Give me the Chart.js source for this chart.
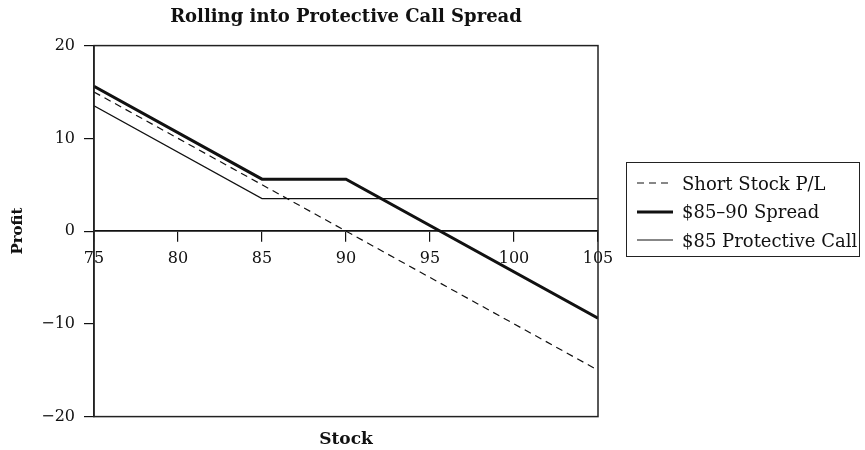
<!DOCTYPE html>
<html>
<head>
<meta charset="utf-8">
<script src="https://cdn.jsdelivr.net/npm/chart.js@4"></script>
<style>
  body { margin: 0; background: #fff; }
  #wrap { position: relative; width: 865px; height: 450px; }
  #legend {
    position: absolute; left: 626px; top: 162px; width: 234px; height: 95px;
    border: 1.5px solid #222; font-family: 'DejaVu Serif', serif; font-size: 18px; color: #111;
    box-sizing: border-box; padding-top: 6px;
  }
  .item { display: flex; align-items: center; height: 28.5px; white-space: nowrap; }
  .swatch { width: 36px; margin-left: 10px; margin-right: 9px; }
</style>
</head>
<body>
<div id="wrap">
  <canvas id="chart" width="865" height="450"></canvas>
  <div id="legend"></div>
</div>
<script>
// Stock price breakpoints and profit at each
const stockPrices = [75, 85, 90, 105];
const shortStockPL = [15, 5, 0, -15];
const spreadPL = [15.6, 5.6, 5.6, -9.4];
const protectiveCallPL = [13.5, 3.5, 3.5, 3.5];
const seriesNames = ['Short Stock P/L', '$85\u201390 Spread', '$85 Protective Call'];

const serif = 'DejaVu Serif, serif';

function points(values) {
    return stockPrices.map((x, i) => ({ x: x, y: values[i] }));
}

// draws the box round the plot area
const framePlugin = {
    id: 'frame',
    afterDraw(chart) {
        const a = chart.chartArea;
        const ctx = chart.ctx;
        ctx.save();
        ctx.strokeStyle = '#222';
        ctx.lineWidth = 1.5;
        ctx.strokeRect(a.left, a.top, a.right - a.left, a.bottom - a.top);
        ctx.restore();
    }
};

const datasets = [
    { label: seriesNames[0], data: points(shortStockPL), borderColor: '#111', borderWidth: 1.2, borderDash: [7, 5] },
    { label: seriesNames[1], data: points(spreadPL), borderColor: '#111', borderWidth: 3 },
    { label: seriesNames[2], data: points(protectiveCallPL), borderColor: '#111', borderWidth: 1.2 }
];

new Chart(document.getElementById('chart'), {
    type: 'line',
    data: { datasets: datasets },
    options: {
        responsive: false,
        animation: false,
        layout: { padding: { top: 6, right: 267, bottom: 0, left: 0 } },
        elements: { point: { radius: 0 }, line: { tension: 0 } },
        plugins: {
            legend: { display: false },
            tooltip: { enabled: false },
            title: {
                display: true,
                text: 'Rolling into Protective Call Spread',
                fullSize: false,
                color: '#111',
                font: { family: serif, size: 18, weight: 'bold' },
                padding: { top: 1, bottom: 17 }
            },
            subtitle: {
                display: true,
                position: 'bottom',
                text: 'Stock',
                fullSize: false,
                color: '#111',
                font: { family: serif, size: 17, weight: 'bold' },
                padding: { top: 13, bottom: 0 }
            }
        },
        scales: {
            x: {
                type: 'linear',
                position: { y: 0 },
                min: 75,
                max: 105,
                border: { color: '#111', width: 1.8 },
                grid: { drawOnChartArea: false, tickLength: 10, color: '#111', lineWidth: 1.2 },
                ticks: { stepSize: 5, color: '#111', padding: 8, font: { family: serif, size: 16 } }
            },
            y: {
                min: -20,
                max: 20,
                afterFit(scale) { scale.width = 94; },
                border: { color: '#222', width: 1.5 },
                grid: { drawOnChartArea: false, tickLength: 10, color: '#111', lineWidth: 1.2 },
                ticks: {
                    stepSize: 10,
                    color: '#111',
                    padding: 9,
                    font: { family: serif, size: 16 },
                    callback: v => v < 0 ? '\u2212' + Math.abs(v) : String(v)
                },
                title: {
                    display: true,
                    text: 'Profit',
                    color: '#111',
                    font: { family: serif, size: 15, weight: 'bold' },
                    padding: { top: 9, bottom: 0 }
                }
            }
        }
    },
    plugins: [framePlugin]
});

// legend built from the dataset settings
const legendEl = document.getElementById('legend');
datasets.forEach(ds => {
    const row = document.createElement('div');
    row.className = 'item';
    const sw = document.createElement('canvas');
    sw.className = 'swatch';
    sw.width = 36; sw.height = 10;
    const c = sw.getContext('2d');
    c.strokeStyle = ds.borderColor;
    c.lineWidth = ds.borderWidth;
    if (ds.borderDash) c.setLineDash(ds.borderDash);
    c.beginPath(); c.moveTo(0, 5); c.lineTo(36, 5); c.stroke();
    const txt = document.createElement('span');
    txt.textContent = ds.label;
    row.appendChild(sw);
    row.appendChild(txt);
    legendEl.appendChild(row);
});
</script>
</body>
</html>
